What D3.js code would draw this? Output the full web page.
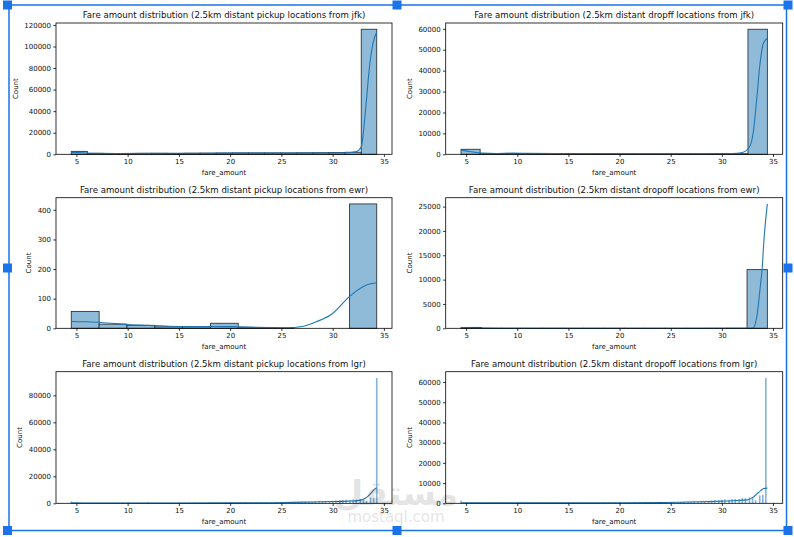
<!DOCTYPE html>
<html><head><meta charset="utf-8">
<script src="https://cdn.jsdelivr.net/npm/d3@7"></script>
<style>body{margin:0;background:#fff} svg{display:block} text{font-family:"DejaVu Sans",sans-serif}</style>
</head><body><svg id="c" width="794" height="537"></svg>
<script>
// ---------- data ----------
const xTickValues = [5, 10, 15, 20, 25, 30, 35];

const titles = [
  "Fare amount distribution (2.5km distant pickup locations from jfk)",
  "Fare amount distribution (2.5km distant dropff locations from jfk)",
  "Fare amount distribution (2.5km distant pickup locations from ewr)",
  "Fare amount distribution (2.5km distant dropoff locations from ewr)",
  "Fare amount distribution (2.5km distant pickup locations from lgr)",
  "Fare amount distribution (2.5km distant dropoff locations from lgr)"
];

// JFK pickup (19 bins)
const jfkPickupEdges = [4.5, 6.07, 7.64, 9.22, 10.79, 12.36, 13.93, 15.5, 17.08, 18.65, 20.22, 21.79, 23.36, 24.93, 26.5, 28.08, 29.65, 31.22, 32.79, 34.3];
const jfkPickupCounts = [2700, 900, 700, 800, 900, 900, 800, 1000, 1100, 1200, 1300, 1300, 1300, 1300, 1400, 1500, 1700, 1900, 116000];
const jfkPickupKdeX = [4.5, 5.5, 7, 9, 12, 15, 18, 21, 24, 27, 30, 31.5, 32.3, 32.8, 33.05, 33.3, 33.6, 33.95, 34.3];
const jfkPickupKdeY = [1800, 1400, 900, 800, 900, 1000, 1000, 1100, 1100, 1100, 1200, 1500, 2500, 7000, 25000, 50700, 81700, 103500, 113500];
const jfkPickupYTicks = [0, 20000, 40000, 60000, 80000, 100000, 120000];

// JFK dropoff (16 bins)
const jfkDropoffEdges = [4.5, 6.37, 8.24, 10.11, 11.98, 13.85, 15.72, 17.59, 19.46, 21.33, 23.2, 25.07, 26.94, 28.81, 30.68, 32.55, 34.45];
const jfkDropoffCounts = [2400, 300, 400, 300, 300, 250, 250, 250, 200, 200, 200, 200, 200, 250, 300, 59800];
const jfkDropoffKdeX = [4.5, 5.5, 6.5, 8, 9.5, 11, 14, 18, 22, 26, 29, 31, 32, 32.7, 33.1, 33.4, 33.7, 34.05, 34.45];
const jfkDropoffKdeY = [2000, 1200, 600, 400, 550, 450, 350, 300, 250, 250, 300, 400, 900, 3500, 11500, 26000, 42000, 53000, 55500];
const jfkDropoffYTicks = [0, 10000, 20000, 30000, 40000, 50000, 60000];

// EWR pickup (11 bins)
const ewrPickupEdges = [4.5, 7.22, 9.93, 12.65, 15.36, 18.08, 20.79, 23.51, 26.22, 28.94, 31.65, 34.3];
const ewrPickupCounts = [57, 14, 10, 5, 5, 17, 2, 1, 0, 0, 420];
const ewrPickupKdeX = [4.5, 6, 8, 10, 12, 14, 16, 18, 20, 22, 24, 25.5, 27, 28.4, 30, 31.6, 33.3, 34.3];
const ewrPickupKdeY = [23, 22, 18, 13, 10, 7, 6, 6, 5.5, 4, 2.5, 2, 6, 22, 50, 106, 146, 154];
const ewrPickupYTicks = [0, 100, 200, 300, 400];

// EWR dropoff (15 bins)
const ewrDropoffEdges = [4.5, 6.5, 8.5, 10.49, 12.49, 14.49, 16.49, 18.48, 20.48, 22.48, 24.47, 26.47, 28.47, 30.46, 32.46, 34.45];
const ewrDropoffCounts = [180, 20, 10, 10, 10, 5, 5, 5, 5, 5, 5, 5, 10, 20, 12060];
const ewrDropoffKdeX = [4.5, 5, 6, 8, 10, 20, 30, 32.5, 33.05, 33.44, 33.77, 33.94, 34.1, 34.26, 34.45];
const ewrDropoffKdeY = [150, 120, 40, 10, 5, 0, 0, 0, 50, 2720, 8850, 12260, 17700, 21800, 25550];
const ewrDropoffYTicks = [0, 5000, 10000, 15000, 20000, 25000];

// LGR (fine-grained fare values)
const lgrFares = [4.5, 5, 5.5, 6, 6.5, 7, 7.5, 8, 8.5, 9, 9.5, 10, 10.5, 11, 11.5, 12, 12.5, 13, 13.5, 14,
  14.5, 15, 15.5, 16, 16.5, 17, 17.5, 18, 18.5, 19, 19.5, 20, 20.5, 21, 21.5, 22, 22.5, 23, 23.5, 24,
  24.5, 25, 25.3, 25.7, 26, 26.3, 26.7, 27, 27.3, 27.7, 28, 28.3, 28.7, 29, 29.3, 29.7, 30, 30.3, 30.7, 31,
  31.3, 31.7, 32, 32.3, 32.7, 33, 33.3, 33.7, 34, 34.3];
const lgrPickupCounts = [1400, 300, 250, 250, 300, 250, 250, 300, 250, 250, 300, 250, 300, 300, 300, 700, 300, 300, 300, 300,
  300, 300, 300, 300, 350, 300, 350, 300, 350, 350, 400, 350, 400, 400, 450, 400, 450, 500, 450, 500,
  550, 600, 650, 700, 750, 800, 850, 900, 1000, 1100, 1200, 1300, 1400, 1600, 1800, 1700, 2000, 2200, 2100, 2500,
  2600, 2400, 2900, 2800, 3100, 3300, 1800, 4200, 3800, 92900];
const lgrDropoffCounts = [1300, 250, 200, 200, 200, 200, 200, 200, 200, 200, 200, 200, 200, 200, 200, 250, 200, 200, 200, 200,
  200, 200, 200, 200, 250, 200, 250, 200, 250, 250, 300, 250, 300, 300, 300, 300, 350, 350, 350, 400,
  400, 450, 500, 550, 600, 650, 700, 750, 850, 900, 1000, 1100, 1200, 1300, 1500, 1400, 1700, 1800, 1700, 2100,
  2200, 2000, 2600, 2500, 2900, 3100, 1500, 3900, 4200, 62000];
const lgrPickupKdeX = [4.5, 7, 10, 15, 20, 24, 26, 28, 30, 31.5, 32.6, 33.0, 33.4, 33.8, 34.1, 34.3];
const lgrPickupKdeY = [300, 250, 250, 250, 300, 450, 700, 1000, 1300, 1600, 2200, 3000, 5000, 8000, 10500, 11500];
const lgrDropoffKdeX = [4.5, 7, 10, 15, 20, 24, 26, 28, 30, 31.5, 32.5, 33.0, 33.4, 33.8, 34.1, 34.45];
const lgrDropoffKdeY = [250, 200, 200, 200, 250, 350, 550, 800, 1100, 1400, 1700, 2800, 4500, 6300, 7300, 7500];
const lgrPickupYTicks = [0, 20000, 40000, 60000, 80000];
const lgrDropoffYTicks = [0, 10000, 20000, 30000, 40000, 50000, 60000];

// ---------- layout ----------
const cols = [[56, 392], [445.7, 782.7]];
const rows = [[23, 154.3], [197.7, 328.3], [371.7, 503.3]];
const BAR_FILL = "#8fbbd9";
const LINE = "#1f77b4";

const svg = d3.select("#c");

function edgesToBins(edges, counts) {
  return counts.map((c, i) => ({ x0: edges[i], x1: edges[i + 1], n: c }));
}
function faresToBins(fares, counts, halfW) {
  return counts.map((c, i) => ({ x0: fares[i] - halfW, x1: fares[i] + halfW, n: c }));
}

const panels = [
  { title: titles[0], col: 0, row: 0, bins: edgesToBins(jfkPickupEdges, jfkPickupCounts), kx: jfkPickupKdeX, ky: jfkPickupKdeY, yTicks: jfkPickupYTicks, fine: false },
  { title: titles[1], col: 1, row: 0, bins: edgesToBins(jfkDropoffEdges, jfkDropoffCounts), kx: jfkDropoffKdeX, ky: jfkDropoffKdeY, yTicks: jfkDropoffYTicks, fine: false },
  { title: titles[2], col: 0, row: 1, bins: edgesToBins(ewrPickupEdges, ewrPickupCounts), kx: ewrPickupKdeX, ky: ewrPickupKdeY, yTicks: ewrPickupYTicks, fine: false },
  { title: titles[3], col: 1, row: 1, bins: edgesToBins(ewrDropoffEdges, ewrDropoffCounts), kx: ewrDropoffKdeX, ky: ewrDropoffKdeY, yTicks: ewrDropoffYTicks, fine: false },
  { title: titles[4], col: 0, row: 2, bins: faresToBins(lgrFares, lgrPickupCounts, 0.08), kx: lgrPickupKdeX, ky: lgrPickupKdeY, yTicks: lgrPickupYTicks, fine: true, dmin: 4.5, dmax: 34.3 },
  { title: titles[5], col: 1, row: 2, bins: faresToBins(lgrFares, lgrDropoffCounts, 0.08), kx: lgrDropoffKdeX, ky: lgrDropoffKdeY, yTicks: lgrDropoffYTicks, fine: true, dmin: 4.5, dmax: 34.45 }
];

panels.forEach(p => {
  const [x0, x1] = cols[p.col];
  const [y0, y1] = rows[p.row];
  const dmin = p.dmin !== undefined ? p.dmin : d3.min(p.bins, b => b.x0);
  const dmax = p.dmax !== undefined ? p.dmax : d3.max(p.bins, b => b.x1);
  const span = dmax - dmin;
  const x = d3.scaleLinear().domain([dmin - 0.05 * span, dmax + 0.05 * span]).range([x0, x1]);
  const ymaxData = Math.max(d3.max(p.bins, b => b.n), d3.max(p.ky));
  const y = d3.scaleLinear().domain([0, ymaxData * 1.05]).range([y1, y0]);
  const g = svg.append("g");

  // bars
  g.append("g").selectAll("rect").data(p.bins.filter(b => b.n > 0)).join("rect")
    .attr("x", b => x(b.x0))
    .attr("width", b => Math.max(0.8, x(b.x1) - x(b.x0)))
    .attr("y", b => y(b.n))
    .attr("height", b => y(0) - y(b.n))
    .attr("fill", p.fine ? "#87b4d6" : BAR_FILL)
    .attr("stroke", p.fine ? "none" : "#1a1a1a")
    .attr("stroke-width", 0.9)
    .attr("stroke-opacity", 0.85);

  // kde
  const pts = p.kx.map((v, i) => [v, p.ky[i]]);
  g.append("path").datum(pts)
    .attr("d", d3.line().x(d => x(d[0])).y(d => y(d[1])).curve(d3.curveMonotoneX))
    .attr("fill", "none").attr("stroke", LINE).attr("stroke-width", 1.1);

  // axes
  const xa = g.append("g").attr("transform", `translate(0,${y1})`)
    .call(d3.axisBottom(x).tickValues(xTickValues).tickFormat(d3.format("d")).tickSizeInner(2.6).tickSizeOuter(0).tickPadding(2.4));
  const ya = g.append("g").attr("transform", `translate(${x0},0)`)
    .call(d3.axisLeft(y).tickValues(p.yTicks).tickFormat(d3.format("d")).tickSizeInner(2.6).tickSizeOuter(0).tickPadding(2.4));
  [xa, ya].forEach(a => {
    a.select(".domain").remove();
    a.selectAll("line").attr("stroke", "#000").attr("stroke-width", 0.8);
    a.selectAll("text").attr("font-size", 7).attr("fill", "#111").attr("font-family", "DejaVu Sans");
  });

  // frame
  g.append("rect").attr("x", x0).attr("y", y0).attr("width", x1 - x0).attr("height", y1 - y0)
    .attr("fill", "none").attr("stroke", "#000").attr("stroke-width", 0.8);

  // title
  g.append("text").attr("x", (x0 + x1) / 2).attr("y", y0 - 4.6)
    .attr("text-anchor", "middle").attr("font-size", 8.6).attr("fill", "#111").text(p.title);

  // x label
  g.append("text").attr("x", (x0 + x1) / 2).attr("y", y1 + 20.3)
    .attr("text-anchor", "middle").attr("font-size", 7).attr("fill", "#111").text("fare_amount");

  // y label
  const bb = ya.node().getBBox();
  const lx = x0 + bb.x - 6.5;
  g.append("text").attr("transform", `translate(${lx},${(y0 + y1) / 2}) rotate(-90)`)
    .attr("text-anchor", "middle").attr("font-size", 7).attr("fill", "#111").text("Count");
});

// watermark
const wm = svg.append("g").attr("opacity", 0.1).attr("fill", "#000");
wm.append("text").attr("x", 396).attr("y", 505).attr("text-anchor", "middle")
  .attr("font-size", 34).attr("font-weight", "bold").attr("font-family", "DejaVu Sans").text("مستقل");
wm.append("text").attr("x", 396).attr("y", 522).attr("text-anchor", "middle")
  .attr("font-size", 15).attr("font-family", "DejaVu Sans").text("mostaql.com");

// selection frame
const SEL = "#1a73e8";
const fr = svg.append("g");
fr.append("rect").attr("x", 9).attr("y", 5).attr("width", 786.5 - 9).attr("height", 530.5 - 5)
  .attr("fill", "none").attr("stroke", SEL).attr("stroke-width", 1.5);
const handles = [[7.5, 5], [397, 5], [788, 5], [7.5, 268], [788, 268], [7.5, 530.5], [397, 530.5], [788, 530.5]];
fr.selectAll("rect.h").data(handles).join("rect").attr("class", "h")
  .attr("x", d => d[0] - 4.5).attr("y", d => d[1] - 4.5).attr("width", 9).attr("height", 9).attr("fill", SEL);
</script></body></html>
